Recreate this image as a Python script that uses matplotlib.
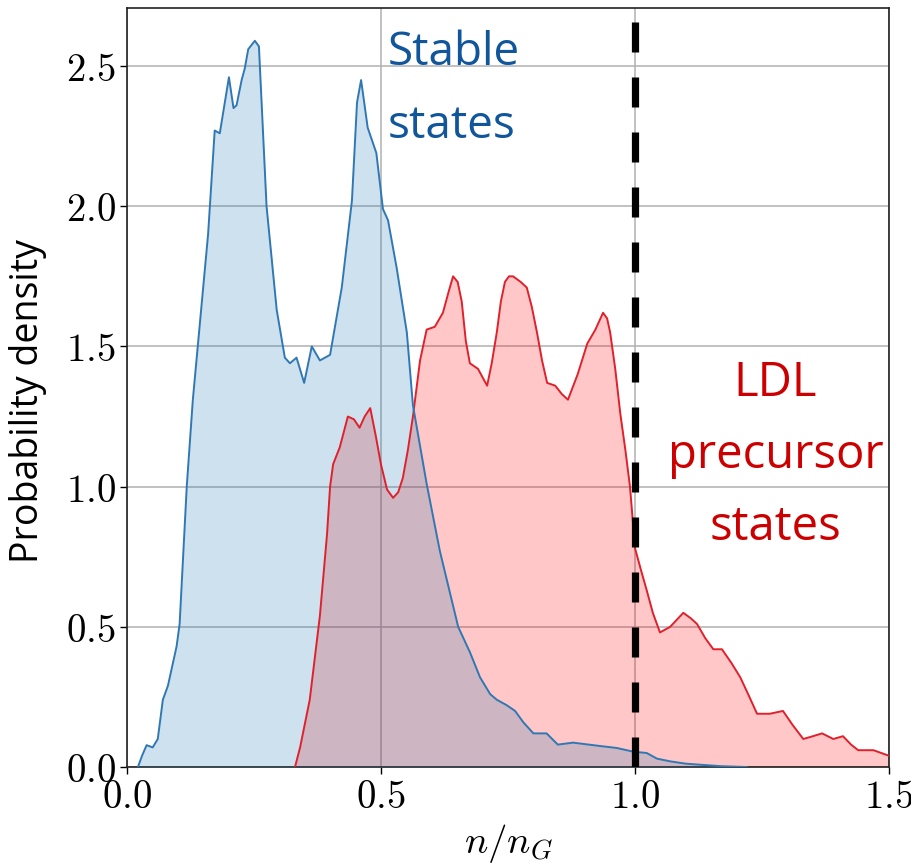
import matplotlib
matplotlib.use("Agg")
import matplotlib.pyplot as plt

plt.rcParams["mathtext.fontset"] = "cm"
plt.rcParams["lines.scale_dashes"] = False

# Density of stable states
stable_x = [0.022, 0.030, 0.039, 0.051, 0.061, 0.071, 0.081, 0.098, 0.104, 0.118,
            0.130, 0.160, 0.173, 0.183, 0.201, 0.210, 0.216, 0.226, 0.232, 0.239,
            0.252, 0.260, 0.275, 0.295, 0.311, 0.321, 0.334, 0.349, 0.364, 0.380,
            0.400, 0.423, 0.443, 0.453, 0.461, 0.474, 0.491, 0.504, 0.514, 0.531,
            0.551, 0.563, 0.590, 0.616, 0.636, 0.652, 0.675, 0.695, 0.715, 0.728,
            0.748, 0.764, 0.780, 0.800, 0.826, 0.848, 0.878, 0.931, 0.964, 0.996,
            1.023, 1.043, 1.070, 1.100, 1.130, 1.170, 1.220]
stable_y = [0.000, 0.040, 0.078, 0.070, 0.100, 0.240, 0.290, 0.430, 0.510, 1.000,
            1.310, 1.900, 2.270, 2.260, 2.460, 2.350, 2.360, 2.450, 2.490, 2.560,
            2.590, 2.570, 2.000, 1.630, 1.460, 1.440, 1.460, 1.370, 1.500, 1.450,
            1.470, 1.710, 2.020, 2.370, 2.450, 2.280, 2.190, 1.990, 1.950, 1.780,
            1.550, 1.290, 1.010, 0.770, 0.620, 0.500, 0.410, 0.320, 0.260, 0.240,
            0.220, 0.200, 0.160, 0.120, 0.120, 0.080, 0.087, 0.075, 0.068, 0.055,
            0.050, 0.030, 0.020, 0.012, 0.008, 0.003, 0.000]

# Density of LDL precursor states
ldl_x = [0.331, 0.341, 0.360, 0.380, 0.394, 0.400, 0.406, 0.419, 0.435, 0.447,
         0.458, 0.468, 0.479, 0.490, 0.500, 0.512, 0.524, 0.534, 0.543, 0.553,
         0.563, 0.577, 0.590, 0.606, 0.622, 0.634, 0.642, 0.651, 0.659, 0.667,
         0.675, 0.691, 0.700, 0.709, 0.718, 0.728, 0.736, 0.744, 0.752, 0.760,
         0.775, 0.787, 0.797, 0.807, 0.817, 0.827, 0.843, 0.856, 0.868, 0.887,
         0.906, 0.922, 0.937, 0.945, 0.951, 0.961, 0.971, 0.981, 0.990, 1.000,
         1.012, 1.023, 1.035, 1.049, 1.069, 1.095, 1.110, 1.122, 1.138, 1.154,
         1.171, 1.190, 1.207, 1.225, 1.240, 1.265, 1.291, 1.310, 1.331, 1.350,
         1.368, 1.390, 1.409, 1.425, 1.439, 1.469, 1.500]
ldl_y = [0.000, 0.070, 0.240, 0.540, 0.830, 1.000, 1.080, 1.140, 1.250, 1.240,
         1.210, 1.250, 1.280, 1.180, 1.080, 0.990, 0.960, 0.980, 1.030, 1.130,
         1.250, 1.450, 1.560, 1.570, 1.620, 1.700, 1.750, 1.730, 1.660, 1.520,
         1.440, 1.420, 1.390, 1.360, 1.440, 1.550, 1.660, 1.730, 1.750, 1.750,
         1.730, 1.710, 1.640, 1.550, 1.450, 1.370, 1.360, 1.330, 1.310, 1.400,
         1.510, 1.560, 1.620, 1.600, 1.550, 1.420, 1.260, 1.130, 1.000, 0.780,
         0.700, 0.630, 0.550, 0.480, 0.500, 0.550, 0.530, 0.510, 0.460, 0.420,
         0.420, 0.370, 0.320, 0.250, 0.190, 0.190, 0.200, 0.150, 0.100, 0.110,
         0.120, 0.100, 0.110, 0.080, 0.060, 0.060, 0.040]

threshold = 1.0
x_ticks = [0.0, 0.5, 1.0, 1.5]
y_ticks = [0.0, 0.5, 1.0, 1.5, 2.0, 2.5]

fig = plt.figure(figsize=(9.12, 8.67), dpi=100)
ax = fig.add_axes([0.139, 0.1153, 0.836, 0.8755])

blue = "#2f78b4"
red = "#e0202a"

ax.fill_between(ldl_x, ldl_y, 0, color="red", alpha=0.22, linewidth=0, zorder=2)
ax.fill_between(stable_x, stable_y, 0, color="#1f77b4", alpha=0.22, linewidth=0, zorder=3)
ax.plot(ldl_x, ldl_y, color=red, lw=1.4, zorder=4)
ax.plot(stable_x, stable_y, color=blue, lw=1.4, zorder=4)

ax.axvline(threshold, color="black", lw=5.2, ls=(0, (21.6, 18.0)), zorder=5)

ax.set_xlim(0, 1.5)
ax.set_ylim(0, 2.707)
ax.set_xticks(x_ticks)
ax.set_yticks(y_ticks)
ax.set_xticklabels([f"${v:.1f}$" for v in x_ticks])
ax.set_yticklabels([f"${v:.1f}$" for v in y_ticks])
ax.tick_params(direction="out", length=5, width=1.0, labelsize=28, pad=3)
ax.grid(True, color="#b0b0b0", lw=1.1, zorder=0)
ax.set_axisbelow(True)
for s in ax.spines.values():
    s.set_linewidth(1.2)
    s.set_color("#222222")

ax.set_xlabel("$n/n_G$", fontsize=28, labelpad=4)
ax.set_ylabel("Probability density", fontsize=27, family="Open Sans")
ax.yaxis.set_label_coords(-0.104, 0.482)

ax.text(0.514, 2.628, "Stable\nstates", color="#11569b", fontsize=33,
        family="Open Sans", ha="left", va="top", linespacing=1.76)
ax.text(1.276, 1.454, "LDL\nprecursor\nstates", color="#cc0000", fontsize=34,
        family="Open Sans", ha="center", va="top", linespacing=1.67)

fig.savefig("out.png", dpi=100)
